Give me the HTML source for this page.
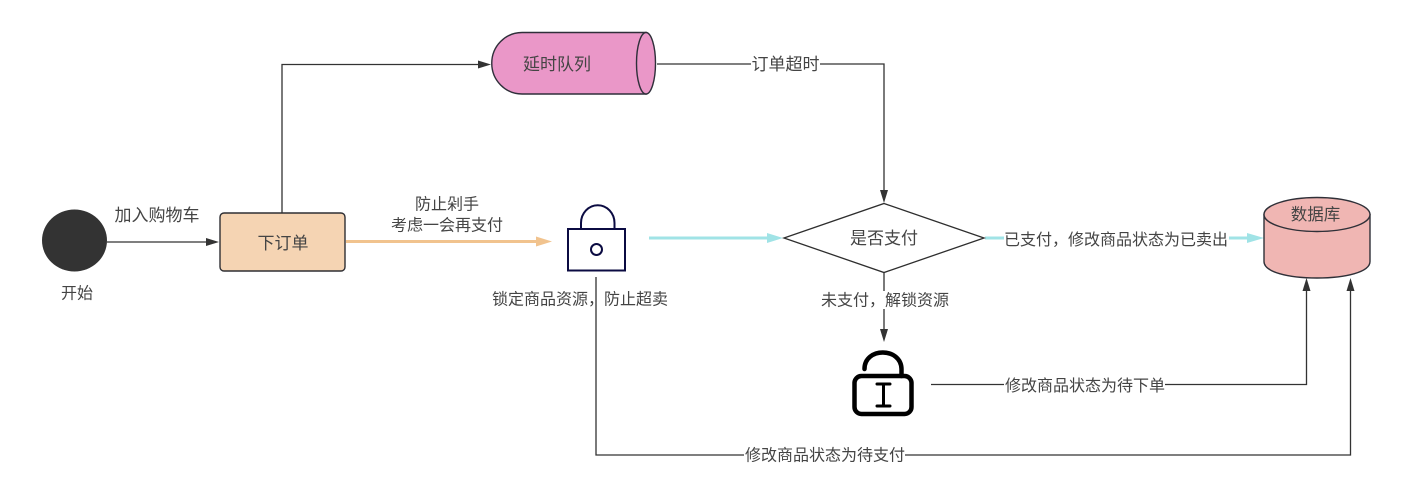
<!DOCTYPE html>
<html>
<head>
<meta charset="utf-8">
<style>
html,body{margin:0;padding:0;background:#fff;width:1415px;height:488px;overflow:hidden}
svg{display:block}
text{font-family:"Liberation Sans","WenQuanYi Zen Hei","Noto Sans CJK SC",sans-serif;font-size:16px;fill:#444;text-anchor:middle}
</style>
</head>
<body>
<svg width="1415" height="488" viewBox="0 0 1415 488" xmlns="http://www.w3.org/2000/svg">
<rect width="1415" height="488" fill="#fff"/>
<!-- start -->
<ellipse cx="74.500" cy="240.500" rx="32.500" ry="31" fill="#333"/>
<text x="77" y="298.500">开始</text>
<!-- edges -->
<g fill="none" stroke="#333" stroke-width="1.3">
<path d="M107 242H208"/>
<path d="M282 213V64.500H480"/>
<path d="M657 64H884V192"/>
<path d="M884 273V331"/>
<path d="M931 384.500H1306.500V289"/>
<path d="M596 277V455H1350.500V289"/>
</g>
<g fill="#333">
<path d="M219 242L206 238V246Z"/>
<path d="M491 64.500L478 60.500V68.500Z"/>
<path d="M884 203L880 190H888Z"/>
<path d="M884 342L880 329H888Z"/>
<path d="M1306.500 278L1302.500 291H1310.500Z"/>
<path d="M1350.500 278L1346.500 291H1354.500Z"/>
</g>
<path d="M346 241.500H540" stroke="#f1c38e" stroke-width="3" fill="none"/>
<path d="M552 241.500L536 236.500V246.500Z" fill="#f1c38e"/>
<path d="M649 238H770" stroke="#a0e3e6" stroke-width="3" fill="none"/>
<path d="M783 238L767 233V243Z" fill="#a0e3e6"/>
<path d="M985 238H1250" stroke="#a0e3e6" stroke-width="3" fill="none"/>
<path d="M1264 238L1247 233V243Z" fill="#a0e3e6"/>
<!-- box -->
<rect x="220" y="213" width="125" height="58" rx="4" fill="#f5d4b3" stroke="#2f2f33" stroke-width="1.4"/>
<text x="283" y="249" style="font-size:17px">下订单</text>
<!-- queue -->
<path d="M646 32.500H522A30 30.500 0 0 0 522 94H646Z" fill="#ea97c8" stroke="#2f2f3a" stroke-width="1.4"/>
<ellipse cx="646" cy="63.250" rx="9.500" ry="30.750" fill="#ea97c8" stroke="#2f2f3a" stroke-width="1.4"/>
<text x="557" y="70" style="font-size:17px">延时队列</text>
<!-- lock -->
<g fill="none" stroke="#0b0b42" stroke-width="2">
<rect x="568" y="229" width="57" height="41.500" fill="#fff"/>
<path d="M581 229V223A16 17 0 0 1 614.500 223V229"/>
<circle cx="596.500" cy="249.500" r="5.500"/>
</g>
<!-- diamond -->
<path d="M884 203.500L984 238L884 272.500L784 238Z" fill="#fff" stroke="#2e2e2e" stroke-width="1.3"/>
<text x="884" y="244" style="font-size:17px">是否支付</text>
<!-- db -->
<path d="M1264 214.500V261.500C1264 272 1288 278 1317 278C1346 278 1370 272 1370 261.500V214.500Z" fill="#f0b6b3" stroke="#2f3038" stroke-width="1.4"/>
<ellipse cx="1317" cy="214.500" rx="53" ry="17" fill="#f0b6b3" stroke="#2f3038" stroke-width="1.4"/>
<text x="1315.500" y="220" style="font-size:16.500px">数据库</text>
<!-- open lock -->
<g fill="none" stroke="#000" stroke-linecap="round">
<rect x="854.500" y="376" width="57" height="38" rx="7" stroke-width="4.500"/>
<path d="M864.500 369C864.500 347 901 347 901.500 369V376" stroke-width="4.500"/>
<path d="M883.500 384V406M877 384H890M877 406H890" stroke-width="3"/>
</g>
<!-- label backgrounds -->
<g fill="#fff">
<rect x="751" y="55" width="69" height="18"/>
<rect x="1004" y="229" width="225" height="18"/>
<rect x="820" y="291" width="130" height="18"/>
<rect x="1004" y="376" width="161" height="18"/>
<rect x="744" y="446" width="161" height="18"/>
<rect x="491" y="291" width="104" height="18"/>
<rect x="598" y="291" width="70" height="18"/>
</g>
<!-- labels -->
<text x="157" y="221" style="font-size:17px">加入购物车</text>
<text x="447" y="209.500">防止剁手</text>
<text x="447" y="230.500">考虑一会再支付</text>
<text x="785.500" y="70" style="font-size:17px">订单超时</text>
<text x="1116" y="245">已支付，修改商品状态为已卖出</text>
<text x="885" y="305.500">未支付，解锁资源</text>
<text x="1085" y="391">修改商品状态为待下单</text>
<text x="825" y="460.500">修改商品状态为待支付</text>
<text x="580" y="304.500">锁定商品资源，防止超卖</text>
</svg>
</body>
</html>
